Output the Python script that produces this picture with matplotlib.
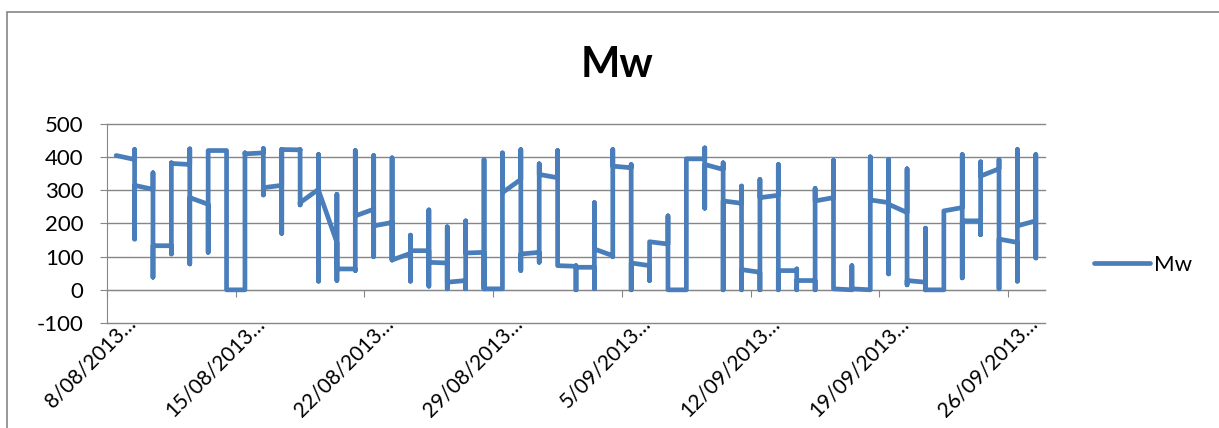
import datetime as dt
import matplotlib
matplotlib.use("Agg")
import matplotlib.pyplot as plt
from matplotlib.patches import Rectangle
from matplotlib.transforms import ScaledTranslation

# readings per day (first, highest, lowest, last), 8/08/2013 .. 27/09/2013
start = dt.datetime(2013, 8, 8)
day_first = [405, 393, 303, 133, 378, 258, 420, 0, 413, 315, 422, 303, 143, 63, 243, 203,
             110, 118, 81, 28, 113, 3, 333, 113, 338, 71, 68, 103, 368, 73, 138, 0, 395,
             363, 261, 53, 285, 58, 28, 278, 0, 0, 263, 233, 23, 0, 248, 208, 365, 143, 208]
day_high = [405, 423, 353, 383, 425, 420, 420, 413, 426, 423, 423, 408, 288, 420, 405, 398,
            165, 241, 190, 208, 393, 413, 423, 380, 420, 73, 263, 423, 378, 145, 223, 395, 428,
            383, 313, 333, 378, 63, 306, 390, 73, 401, 393, 365, 186, 238, 408, 386, 393, 423, 408]
day_low = [405, 153, 38, 108, 78, 113, 0, 0, 286, 170, 256, 26, 28, 58, 100, 90,
           26, 11, 3, 3, 3, 3, 58, 83, 73, 0, 3, 100, 0, 28, 0, 0, 246,
           0, 0, 0, 0, 0, 0, 3, 0, 0, 48, 15, 0, 0, 36, 166, 3, 26, 96]
day_last = [405, 315, 133, 381, 278, 420, 0, 410, 308, 423, 263, 300, 63, 223, 193, 90,
            118, 83, 23, 111, 3, 293, 108, 348, 73, 68, 123, 373, 81, 145, 0, 395, 378,
            268, 61, 278, 58, 28, 268, 3, 3, 271, 258, 28, 0, 238, 208, 343, 153, 193, 208]
tick_labels = ['8/08/2013…', '15/08/2013…', '22/08/2013…', '29/08/2013…',
               '5/09/2013…', '12/09/2013…', '19/09/2013…', '26/09/2013…']
y_ticks = [-100, 0, 100, 200, 300, 400, 500]

# all readings of a day sit on the same date, like Excel's date axis
xs, ys = [], []
for i in range(len(day_first)):
    day = start + dt.timedelta(days=i, hours=12)
    f, h, l, e = day_first[i], day_high[i], day_low[i], day_last[i]
    if f == h == l == e:
        seq = [f]
    elif abs(f - h) < abs(f - l):
        seq = [f, h, l, e]
    else:
        seq = [f, l, h, e]
    xs += [day] * len(seq)
    ys += seq

plt.rcParams['font.family'] = ['Lato', 'DejaVu Sans']
grey = '#868686'

fig = plt.figure(figsize=(12.19, 4.28), dpi=100)
ax = fig.add_axes([107 / 1219, 1 - 323 / 428, (1045 - 107) / 1219, (323 - 124) / 428])

ax.plot(xs, ys, color='#4A7EBB', lw=3.4, solid_capstyle='round', solid_joinstyle='round',
        label='Mw', zorder=3)

ax.set_xlim(start, start + dt.timedelta(days=len(day_first)))
ax.set_ylim(-100, 500)
ax.set_yticks(y_ticks)
ax.set_yticklabels([str(v) for v in y_ticks])
ax.yaxis.grid(True, color=grey, lw=1)
for gl in ax.get_ygridlines():
    gl.set_clip_on(False)
ax.set_axisbelow(True)

ax.spines['top'].set_visible(False)
ax.spines['right'].set_visible(False)
ax.spines['left'].set_color(grey)
ax.spines['bottom'].set_position(('data', 0))
ax.spines['bottom'].set_color(grey)

ticks = [start + dt.timedelta(days=7 * k) for k in range(len(tick_labels))]
ax.set_xticks(ticks)
ax.set_xticklabels(tick_labels, rotation=45, ha='right', va='center', rotation_mode='anchor')
ax.tick_params(axis='x', colors=grey, length=5, pad=17, labelcolor='black', labelsize=15)
ax.tick_params(axis='y', colors=grey, length=5, pad=12, labelcolor='black', labelsize=16)
shift = ScaledTranslation(26 / 100, 0, fig.dpi_scale_trans)
for lab in ax.get_xticklabels():
    lab.set_transform(lab.get_transform() + shift)

fig.text(617 / 1219, 1 - 65 / 428, 'Mw', ha='center', va='center', fontsize=30, fontweight='bold')

fig.legend(loc='center left', bbox_to_anchor=(1094 / 1219, 1 - 265 / 428), frameon=False,
           fontsize=16, handlelength=2.5, handletextpad=0.2, borderaxespad=0, borderpad=0)

# chart area border (cut off at right and bottom)
fig.patches.append(Rectangle((7 / 1219, -0.1), 1.2, 1.1 - 12 / 428, transform=fig.transFigure,
                             fill=False, edgecolor=grey, lw=1.2, clip_on=False))

fig.savefig('out.png', dpi=100)
